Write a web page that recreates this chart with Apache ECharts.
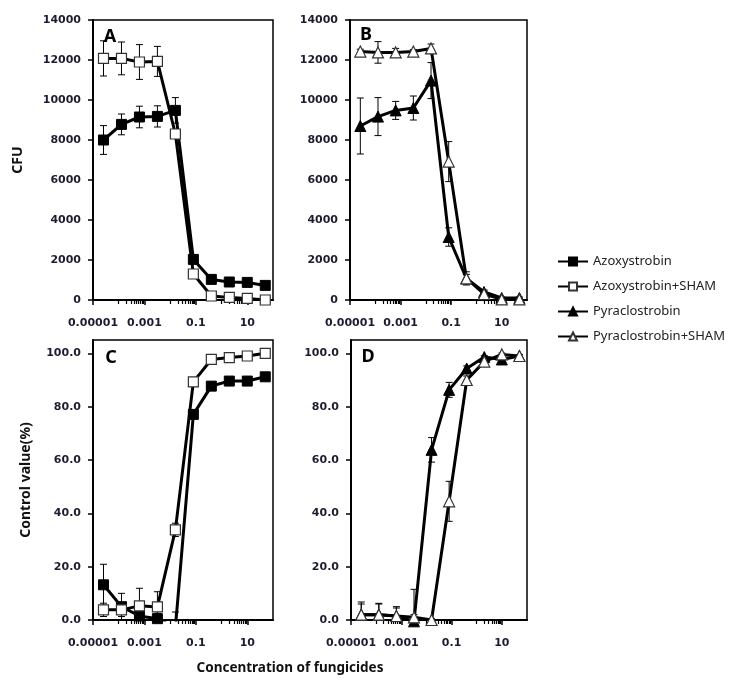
<!DOCTYPE html>
<html>
<head>
<meta charset="utf-8">
<script src="https://cdn.jsdelivr.net/npm/echarts@6/dist/echarts.min.js"></script>
<style>
html,body{margin:0;padding:0;background:#fff;}
#chart{width:730px;height:684px;}
</style>
</head>
<body>
<div id="chart"></div>
<script>
// ---------- data ----------
const conc = [0.0000256, 0.000128, 0.00064, 0.0032, 0.016, 0.08, 0.4, 2, 10, 50];
const xTickValues = [0.00001, 0.001, 0.1, 10];
const xTickLabels = ['0.00001', '0.001', '0.1', '10'];
const cfuTicks = [0, 2000, 4000, 6000, 8000, 10000, 12000, 14000];
const ctrlTicks = [0, 20, 40, 60, 80, 100];

// Panel A (CFU)
const azoCFU        = [8000, 8780, 9150, 9180, 9480, 2030, 1030, 900, 880, 730];
const azoCFUErr     = [720, 520, 540, 530, 640, 150, 120, 100, 100, 100];
const azoShamCFU    = [12080, 12080, 11900, 11930, 8300, 1300, 200, 130, 80, 0];
const azoShamCFUErr = [880, 820, 870, 750, 200, 150, 80, 60, 60, 50];
// Panel B (CFU)
const pyrCFU        = [8700, 9170, 9480, 9600, 10970, 3150, 1080, 400, 100, 100];
const pyrCFUErr     = [1400, 950, 450, 600, 900, 460, 200, 100, 50, 50];
const pyrShamCFU    = [12420, 12380, 12380, 12420, 12580, 6920, 1080, 300, 30, 30];
const pyrShamCFUErr = [120, 540, 200, 100, 220, 1000, 330, 150, 50, 50];
// Panel C (control value %)
const azoCtrl        = [13.2, 5.0, 1.5, 0.5, -3, 77.1, 87.7, 89.6, 89.6, 91.2];
const azoCtrlErr     = [7.7, 5, 3, 2, 6, 1.5, 1, 1, 1, 1];
const azoShamCtrl    = [3.8, 3.8, 5.3, 4.9, 33.8, 89.3, 97.7, 98.4, 99.0, 100];
const azoShamCtrlErr = [2.5, 2.5, 6.6, 5.7, 2.5, 1, 0.5, 0.5, 0.5, 0.5];
// Panel D (control value %)
const pyrCtrl        = [2.0, 2.0, 1.5, -0.5, 63.8, 86.3, 94.3, 98.6, 97.7, 99.0];
const pyrCtrlErr     = [4, 4, 3, 12, 4.6, 2.8, 1, 0.5, 0.5, 0.5];
const pyrShamCtrl    = [2.0, 2.0, 1.5, 1.0, 0, 44.5, 90.0, 96.9, 99.6, 99.0];
const pyrShamCtrlErr = [4.75, 4.25, 3.5, 1, 0.5, 7.5, 1.5, 1, 0.5, 0.5];

const seriesNames = ['Azoxystrobin', 'Azoxystrobin+SHAM', 'Pyraclostrobin', 'Pyraclostrobin+SHAM'];

// minor ticks (Excel log base-100 style: 10..90 x each major)
const minorTicks = [];
xTickValues.forEach(m => { for (let k = 1; k <= 9; k++) { const v = m * 10 * k; if (v < 100) minorTicks.push(v); } });

// ---------- layout ----------
const grids = [
  {left: 93, top: 20, width: 180, height: 280},
  {left: 350, top: 20, width: 177, height: 280},
  {left: 93, top: 340, width: 180, height: 280},
  {left: 351, top: 340, width: 176, height: 280}
];
const labelColor = '#1c1c30';
const tickFont = {fontFamily: 'DejaVu Sans', fontWeight: 'bold', fontSize: 11, color: labelColor};

function xLabel(v) {
  const lg = Math.log10(v);
  let best = 0;
  xTickValues.forEach((m, i) => {
    if (Math.abs(Math.log10(m) - lg) < Math.abs(Math.log10(xTickValues[best]) - lg)) best = i;
  });
  return xTickLabels[best];
}

const xAxes = [], yAxes = [];
grids.forEach((g, i) => {
  xAxes.push({
    type: 'log', logBase: 10, gridIndex: i, min: 0.00001, max: 100, position: 'bottom',
    axisLine: {show: true, lineStyle: {color: '#000', width: 2}},
    axisTick: {show: true, inside: false, length: 5, customValues: xTickValues, lineStyle: {color: '#000', width: 1.5}},
    axisLabel: {show: true, customValues: xTickValues, margin: 18, formatter: xLabel, ...tickFont},
    splitLine: {show: false}, minorTick: {show: false}, minorSplitLine: {show: false}
  });
  xAxes.push({
    type: 'log', logBase: 10, gridIndex: i, min: 0.00001, max: 100, position: 'bottom',
    axisLine: {show: false},
    axisTick: {show: true, inside: false, length: 4, customValues: minorTicks, lineStyle: {color: '#000', width: 1.2}},
    axisLabel: {show: false},
    splitLine: {show: false}
  });
  const isCFU = i < 2;
  const y = {
    type: 'value', gridIndex: i, min: 0, max: isCFU ? 14000 : 105,
    axisLine: {show: true, lineStyle: {color: '#000', width: 2}},
    axisTick: {show: true, inside: false, length: 5, customValues: isCFU ? cfuTicks : ctrlTicks, lineStyle: {color: '#000', width: 1.5}},
    axisLabel: {show: true, customValues: isCFU ? cfuTicks : ctrlTicks, margin: 12,
      formatter: isCFU ? (v => String(v)) : (v => v.toFixed(1)), ...tickFont},
    splitLine: {show: false}
  };
  if (i === 0) {
    Object.assign(y, {name: 'CFU', nameLocation: 'middle', nameRotate: 90, nameGap: 68,
      nameTextStyle: {fontFamily: 'Noto Sans', fontWeight: 'bold', fontSize: 14, color: '#111'}});
  }
  if (i === 2) {
    Object.assign(y, {name: 'Control value(%)', nameLocation: 'middle', nameRotate: 90, nameGap: 60,
      nameTextStyle: {fontFamily: 'Noto Sans', fontWeight: 'bold', fontSize: 14, color: '#111'}});
  }
  yAxes.push(y);
});

const styles = {
  'Azoxystrobin':        {symbol: 'rect', symbolSize: 10, itemStyle: {color: '#000', borderColor: '#000', borderWidth: 1}},
  'Azoxystrobin+SHAM':   {symbol: 'rect', symbolSize: 10, itemStyle: {color: '#fff', borderColor: '#333', borderWidth: 1.2}},
  'Pyraclostrobin':      {symbol: 'triangle', symbolSize: 11, itemStyle: {color: '#000', borderColor: '#000', borderWidth: 1}},
  'Pyraclostrobin+SHAM': {symbol: 'triangle', symbolSize: 11, itemStyle: {color: '#fff', borderColor: '#333', borderWidth: 1.2}}
};

const series = [];
function addLine(name, panel, vals, errs, clip) {
  series.push({
    type: 'custom', name: name + ' err', xAxisIndex: panel * 2, yAxisIndex: panel, clip: true, z: 1, silent: true,
    data: conc.map((c, j) => [c, vals[j], errs[j]]),
    renderItem: function (params, api) {
      const x = api.value(0), yv = api.value(1), e = api.value(2);
      const top = api.coord([x, yv + e]);
      const bot = api.coord([x, yv - e]);
      const cw = 3.5;
      const st = {stroke: '#000', lineWidth: 1};
      return {type: 'group', children: [
        {type: 'line', shape: {x1: top[0], y1: top[1], x2: bot[0], y2: bot[1]}, style: st},
        {type: 'line', shape: {x1: top[0] - cw, y1: top[1], x2: top[0] + cw, y2: top[1]}, style: st},
        {type: 'line', shape: {x1: bot[0] - cw, y1: bot[1], x2: bot[0] + cw, y2: bot[1]}, style: st}
      ]};
    }
  });
  const s = styles[name];
  series.push({
    type: 'line', name: name, xAxisIndex: panel * 2, yAxisIndex: panel, clip: clip, z: 3,
    data: conc.map((c, j) => [c, vals[j]]),
    symbol: s.symbol, symbolSize: s.symbolSize, showSymbol: true, showAllSymbol: true,
    itemStyle: s.itemStyle,
    lineStyle: {color: '#000', width: 3},
    emphasis: {disabled: true}
  });
}
addLine('Azoxystrobin', 0, azoCFU, azoCFUErr, true);
addLine('Azoxystrobin+SHAM', 0, azoShamCFU, azoShamCFUErr, true);
addLine('Pyraclostrobin', 1, pyrCFU, pyrCFUErr, true);
addLine('Pyraclostrobin+SHAM', 1, pyrShamCFU, pyrShamCFUErr, true);
addLine('Azoxystrobin', 2, azoCtrl, azoCtrlErr, true);
addLine('Azoxystrobin+SHAM', 2, azoShamCtrl, azoShamCtrlErr, true);
addLine('Pyraclostrobin', 3, pyrCtrl, pyrCtrlErr, false);
addLine('Pyraclostrobin+SHAM', 3, pyrShamCtrl, pyrShamCtrlErr, true);

const letterFont = 'bold 18px "Noto Sans"';
const option = {
  animation: false,
  backgroundColor: '#fff',
  grid: grids.map(g => ({...g, show: true, borderColor: '#000', borderWidth: 1.5, backgroundColor: 'transparent', containLabel: false})),
  xAxis: xAxes,
  yAxis: yAxes,
  legend: {
    data: seriesNames, orient: 'vertical', left: 557, top: 255, padding: 0,
    itemWidth: 30, itemHeight: 10, itemGap: 12,
    textStyle: {fontFamily: 'Noto Sans', fontSize: 13, color: '#222'},
    selectedMode: false
  },
  graphic: [
    {type: 'text', style: {x: 110, y: 37, text: 'A', font: letterFont, fill: '#000', align: 'center', verticalAlign: 'middle'}},
    {type: 'text', style: {x: 366, y: 35, text: 'B', font: letterFont, fill: '#000', align: 'center', verticalAlign: 'middle'}},
    {type: 'text', style: {x: 111, y: 358, text: 'C', font: letterFont, fill: '#000', align: 'center', verticalAlign: 'middle'}},
    {type: 'text', style: {x: 368, y: 357, text: 'D', font: letterFont, fill: '#000', align: 'center', verticalAlign: 'middle'}},
    {type: 'text', style: {x: 290, y: 668, text: 'Concentration of fungicides', font: 'bold 13.5px "Noto Sans"', fill: '#111', align: 'center', verticalAlign: 'middle'}}
  ],
  series: series
};
const chart = echarts.init(document.getElementById('chart'), null, {renderer: 'canvas'});
chart.setOption(option);
</script>
</body>
</html>
